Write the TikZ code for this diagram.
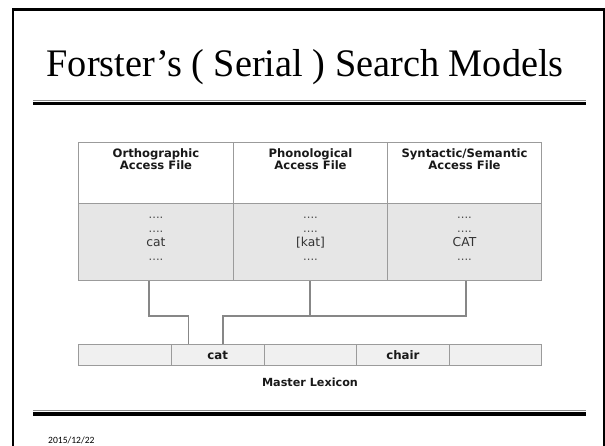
\documentclass[tikz,border=0pt]{standalone}
\usepackage{fontspec}
\usepackage{graphicx}
\newfontfamily\titlefont{Liberation Serif}
\newfontfamily\diagfont{DejaVu Sans}
\newfontfamily\datefont{Carlito}
\usetikzlibrary{calc}
\definecolor{cellline}{RGB}{155,155,155}
\definecolor{bodyfill}{RGB}{230,230,230}
\definecolor{lexfill}{RGB}{240,240,240}
\definecolor{wire}{RGB}{135,135,135}
\definecolor{rulegrey}{RGB}{140,140,140}
\begin{document}
\begin{tikzpicture}[x=1pt,y=-1pt,
  headcell/.style={draw=cellline,line width=1pt,fill=white,minimum width=154pt,minimum height=61pt,inner sep=0pt,anchor=north west},
  bodycell/.style={draw=cellline,line width=1pt,fill=bodyfill,minimum width=154pt,minimum height=77pt,inner sep=0pt,anchor=north west},
  lexcell/.style={draw=cellline,line width=1pt,fill=lexfill,minimum width=92.6pt,minimum height=21pt,inner sep=0pt,anchor=north west},
  lextext/.style={font=\diagfont\bfseries\fontsize{11.8}{13}\selectfont,text=black!90,inner sep=0pt,anchor=base},
  headtext/.style={font=\diagfont\bfseries\fontsize{11.6}{13}\selectfont,text=black!90,inner sep=0pt,anchor=base},
  bodytext/.style={font=\diagfont\fontsize{12.3}{14}\selectfont,text=black!80,inner sep=0pt,anchor=base},
  dotstext/.style={font=\diagfont\fontsize{11.5}{12}\selectfont,text=black!70,inner sep=0pt,anchor=base},
  wireline/.style={draw=wire,line width=1.6pt}]
\useasboundingbox (0,0) rectangle (605,445);
\begin{scope}
\clip (0,0) rectangle (605,445);
% slide frame
\draw[line width=2.3pt] (12.8,460) -- (12.8,9.5) -- (603.8,9.5) -- (603.8,460);
\end{scope}
% title
\node[anchor=base west,inner sep=0pt] (title) at (46.5,76)
  {\resizebox{517pt}{\height}{\titlefont\fontsize{39}{42}\selectfont Forster’s ( Serial ) Search Models}};
% rules under the title and above the footer
\draw[rulegrey,line width=1.1pt] (33,100.8) -- (585.5,100.8);
\draw[black,line width=3pt] (33,103.8) -- (585.5,103.8);
\draw[rulegrey,line width=1.1pt] (33,410.9) -- (585.5,410.9);
\draw[black,line width=3.2pt] (33,414) -- (585.5,414);
% footer date
\node[anchor=base west,inner sep=0pt,font=\datefont\fontsize{9.6}{12}\selectfont] (date) at (48,443) {2015/12/22};

% access files: header row and contents row
\node[headcell,minimum width=155pt] (oh) at (78,142) {};
\node[headcell] (ph) at (233,142) {};
\node[headcell] (sh) at (387,142) {};
\node[bodycell,minimum width=155pt] (ob) at (78,203) {};
\node[bodycell] (pb) at (233,203) {};
\node[bodycell] (sb) at (387,203) {};

\node[headtext] (ot1) at ($(oh.north)+(0,15.3)$) {Orthographic};
\node[headtext] (ot2) at ($(oh.north)+(0,27.3)$) {Access File};
\node[headtext] (pt1) at ($(ph.north)+(0,15.3)$) {Phonological};
\node[headtext] (pt2) at ($(ph.north)+(0,27.3)$) {Access File};
\node[headtext] (st1) at ($(sh.north)+(0,15.3)$) {Syntactic/Semantic};
\node[headtext] (st2) at ($(sh.north)+(0,27.3)$) {Access File};

\foreach \c/\w in {ob/cat,pb/{[kat]},sb/CAT}{
  \node[dotstext] (\c d1) at ($(\c.north)+(0,15)$) {....};
  \node[dotstext] (\c d2) at ($(\c.north)+(0,29)$) {....};
  \node[bodytext] (\c w) at ($(\c.north)+(0,43.5)$) {\w};
  \node[dotstext] (\c d3) at ($(\c.north)+(0,57)$) {....};
}

% master lexicon
\node[lexcell] (m1) at (78.3,344.3) {};
\node[lexcell] (m2) at (170.9,344.3) {};
\node[lexcell] (m3) at (263.5,344.3) {};
\node[lexcell] (m4) at (356.1,344.3) {};
\node[lexcell] (m5) at (448.7,344.3) {};
\node[lextext] (m2t) at ($(m2.center)+(0,4.3)$) {cat};
\node[lextext] (m4t) at ($(m4.center)+(0,4.3)$) {chair};
\node[font=\diagfont\bfseries\fontsize{11.2}{13}\selectfont,text=black!90,inner sep=0pt,anchor=base] (ml) at (310,386) {Master Lexicon};

% connections from the access files to the master lexicon
\coordinate (oj) at ($(ob.south)+(-7.2,35)$);
\coordinate (sj) at ($(sb.south)+(1.7,35)$);
\draw[wireline] ($(ob.south)+(-7.2,0)$) -- (oj) -| ($(m2.north west)+(17.4,0)$);
\draw[wireline] ($(m2.north west)+(51.8,0)$) |- (sj) -- ($(sb.south)+(1.7,0)$);
\draw[wireline] ($(pb.south)+(-0.7,0)$) -- ($(pb.south)+(-0.7,35)$);
\end{tikzpicture}
\end{document}
